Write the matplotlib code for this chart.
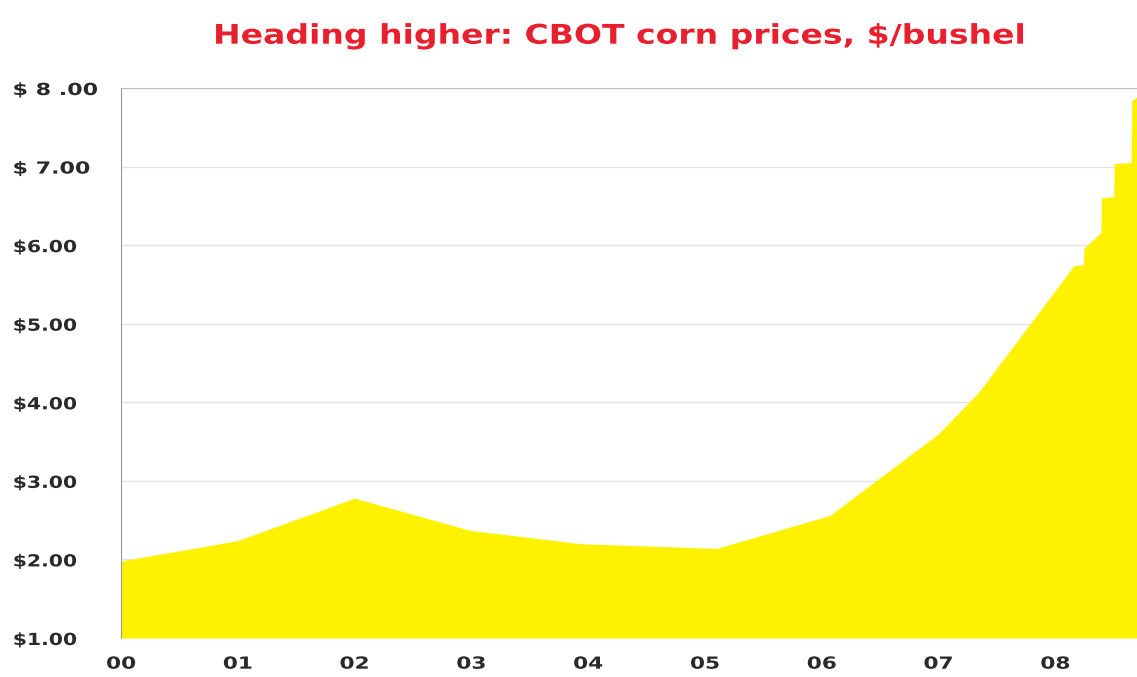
import matplotlib.pyplot as plt
from matplotlib.patheffects import AbstractPathEffect
from matplotlib.transforms import Affine2D

# CBOT corn prices, $/bushel (years since 2000)
years = [0.0, 1.0, 2.0, 2.99, 3.94, 5.1, 6.07, 7.0, 7.34, 8.16, 8.24, 8.245, 8.39,
         8.395, 8.50, 8.505, 8.65, 8.655, 8.71]
prices = [1.98, 2.24, 2.78, 2.37, 2.20, 2.14, 2.56, 3.60, 4.12, 5.74, 5.75, 5.96, 6.16,
          6.60, 6.62, 7.04, 7.05, 7.84, 7.90]

year_ticks = [0, 1, 2, 3, 4, 5, 6, 7, 8]
year_labels = ['00', '01', '02', '03', '04', '05', '06', '07', '08']
price_ticks = [1, 2, 3, 4, 5, 6, 7, 8]
price_labels = ['$1.00', '$2.00', '$3.00', '$4.00', '$5.00', '$6.00', '$ 7.00', '$ 8 .00']


class Widen(AbstractPathEffect):
    # stretch text horizontally around x0 (pixels) to mimic the wide original font
    def __init__(self, sx, x0):
        super().__init__()
        self.sx = sx
        self.x0 = x0

    def draw_path(self, renderer, gc, tpath, affine, rgbFace=None):
        t = affine + Affine2D().translate(-self.x0, 0).scale(self.sx, 1).translate(self.x0, 0)
        renderer.draw_path(gc, tpath, t, rgbFace)


fig = plt.figure(figsize=(11.37, 6.77), dpi=100)
ax = fig.add_axes([0.1064, 0.0576, 0.8936, 0.8124])

ax.fill_between(years, 1, prices, color='#fff200', linewidth=0)

ax.set_xlim(0, 8.70)
ax.set_ylim(1, 8)
ax.set_xticks(year_ticks)
ax.set_xticklabels(year_labels)
ax.set_yticks(price_ticks)
ax.set_yticklabels(price_labels, ha='left')
ax.tick_params(length=0, labelsize=12, colors='#2a2a2a')
ax.tick_params(axis='x', pad=12)
ax.tick_params(axis='y', pad=78)

for x, lbl in zip(year_ticks, ax.get_xticklabels()):
    lbl.set_fontweight('bold')
    xc = ax.transData.transform((x, 1))[0]
    lbl.set_path_effects([Widen(1.3, xc)])
for lbl in ax.get_yticklabels():
    lbl.set_fontweight('bold')
    if ' ' in lbl.get_text():
        lbl.set_path_effects([Widen(1.33, 13)])
    else:
        lbl.set_path_effects([Widen(1.22, 12)])

ax.grid(axis='y', color='#e4e4e4', linewidth=1)
ax.set_axisbelow(True)
ax.spines['right'].set_visible(False)
ax.spines['bottom'].set_visible(False)
ax.spines['left'].set_color('#9a9a9a')
ax.spines['top'].set_color('#bdbdbd')

title_x = 0.545
fig.suptitle('Heading higher: CBOT corn prices, $/bushel', color='#e8202e',
             fontsize=19.5, fontweight='bold', x=title_x, y=0.965,
             path_effects=[Widen(1.22, title_x * 1137)])

fig.savefig('out.png', dpi=100)
